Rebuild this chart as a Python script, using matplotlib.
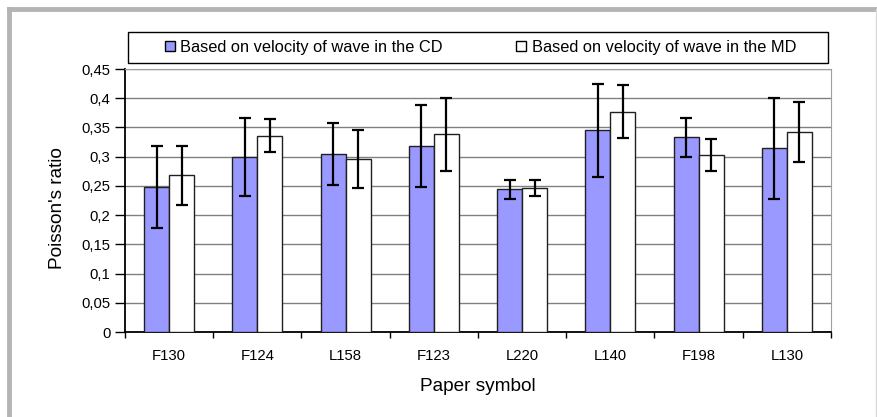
import matplotlib
matplotlib.use('Agg')
import matplotlib.pyplot as plt
from matplotlib.lines import Line2D
from matplotlib.patches import Rectangle
import numpy as np

# Data
papers = ['F130', 'F124', 'L158', 'F123', 'L220', 'L140', 'F198', 'L130']
ratio_cd = [0.248, 0.300, 0.305, 0.318, 0.244, 0.345, 0.333, 0.314]
err_cd = [0.070, 0.067, 0.053, 0.070, 0.016, 0.080, 0.033, 0.087]
ratio_md = [0.268, 0.336, 0.296, 0.338, 0.246, 0.377, 0.303, 0.342]
err_md = [0.050, 0.028, 0.050, 0.062, 0.014, 0.045, 0.028, 0.051]
label_cd = 'Based on velocity of wave in the CD'
label_md = 'Based on velocity of wave in the MD'

plt.rcParams['font.family'] = ['Liberation Sans', 'DejaVu Sans']

fig = plt.figure(figsize=(8.78, 4.17), dpi=100)
ax = fig.add_axes([125/878, 1 - 332/417, 706/878, 263/417])

ind = np.arange(len(papers))
w = 0.283
err_kw = dict(ecolor='black', elinewidth=1.6, capsize=4, capthick=1.6)
ax.bar(ind - w/2, ratio_cd, w, color='#9999ff', edgecolor='#202020', linewidth=1,
       yerr=err_cd, error_kw=err_kw, zorder=3)
ax.bar(ind + w/2, ratio_md, w, color='white', edgecolor='#202020', linewidth=1,
       yerr=err_md, error_kw=err_kw, zorder=3)

ax.set_xlim(-0.5, len(papers) - 0.5)
ax.set_ylim(0, 0.45)
yt = np.arange(0, 0.451, 0.05)
ax.set_yticks(yt)
ax.set_yticklabels([('%g' % round(v, 2)).replace('.', ',') for v in yt])
ax.yaxis.grid(True, color='#808080', linewidth=1, zorder=0)
ax.set_axisbelow(True)

ax.set_xticks(np.arange(-0.5, len(papers)), minor=False)
ax.set_xticklabels([])
ax.set_xticks(ind, minor=True)
ax.set_xticklabels(papers, minor=True)
ax.tick_params(axis='x', which='major', direction='out', length=4, width=1)
ax.tick_params(axis='x', which='minor', length=0, pad=12, labelsize=10.7)
ax.tick_params(axis='y', direction='out', length=7, width=1, labelsize=10.7, pad=3.5)

for s in ['top', 'right']:
    ax.spines[s].set_color('#a0a0a0')
ax.spines['left'].set_linewidth(1.3)
ax.spines['bottom'].set_linewidth(1.3)

ax.set_ylabel("Poisson's ratio", fontsize=13.7)
ax.yaxis.set_label_coords(-0.083, 0.47)
ax.set_xlabel('Paper symbol', fontsize=13.7)
ax.xaxis.set_label_coords(0.5, -0.175)

# legend: box drawn separately, entries spread inside it
fig.add_artist(Rectangle((128/878, 1 - 63/417), 700/878, 31/417, transform=fig.transFigure,
                         facecolor='white', edgecolor='black', linewidth=1))
handles = [Line2D([], [], marker='s', markersize=7.5, markerfacecolor='#9999ff', markeredgecolor='black', linestyle='none'),
           Line2D([], [], marker='s', markersize=7.5, markerfacecolor='white', markeredgecolor='black', linestyle='none')]
leg = fig.legend(handles, [label_cd, label_md], ncol=2, mode='expand',
                 bbox_to_anchor=(164/878, 1 - 62/417, 632/878, 29/417), loc='center',
                 frameon=False, fontsize=11.8,
                 handlelength=0.7, handletextpad=0.3, borderpad=0, borderaxespad=0)

# outer frame of the original chart
fig.add_artist(Line2D([9/878, 9/878], [0, 1 - 9/417], color='#b4b4b4', linewidth=3.5, transform=fig.transFigure))
fig.add_artist(Line2D([9/878, 876/878], [1 - 9/417, 1 - 9/417], color='#b4b4b4', linewidth=3.5, transform=fig.transFigure))
fig.add_artist(Line2D([876/878, 876/878], [0, 1 - 9/417], color='#d8d8d8', linewidth=1, transform=fig.transFigure))

fig.savefig('out.png', dpi=100)
